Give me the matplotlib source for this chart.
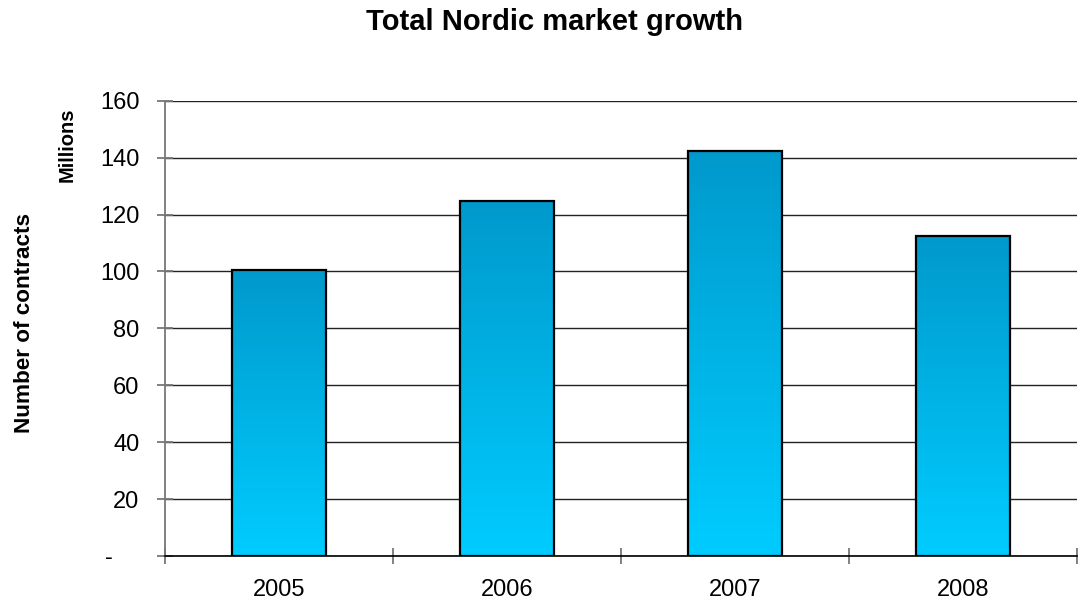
import numpy as np
import matplotlib
matplotlib.use("Agg")
from matplotlib import pyplot as plt
from matplotlib.colors import LinearSegmentedColormap

# данные
years = ["2005", "2006", "2007", "2008"]
contracts = [100.5, 124.8, 142.4, 112.4]
y_ticks = [0, 20, 40, 60, 80, 100, 120, 140, 160]
y_labels = ["-    ", "20", "40", "60", "80", "100", "120", "140", "160"]

plt.rcParams["font.family"] = ["Liberation Sans", "DejaVu Sans"]

fig = plt.figure(figsize=(10.78, 6.02), dpi=100)
ax = fig.add_axes([165 / 1078, 1 - 556 / 602, 912 / 1078, 455.3 / 602])

x = np.arange(len(years))
w = 0.41
grad = LinearSegmentedColormap.from_list("bar", ["#00CCFF", "#0099CC"])
g = np.linspace(0, 1, 256).reshape(-1, 1)

for xi, v in zip(x, contracts):
    ax.imshow(g, cmap=grad, origin="lower", aspect="auto",
              extent=(xi - w / 2, xi + w / 2, 0, v), zorder=2)
ax.bar(x, contracts, width=w, fill=False, edgecolor="black", linewidth=1.6, zorder=3)

ax.set_xlim(-0.5, 3.5)
ax.set_ylim(0, 160)

# сетка
ax.set_yticks(y_ticks)
ax.set_yticklabels(y_labels, fontsize=17)
ax.yaxis.grid(True, color="#222222", linewidth=1.0, zorder=1)
ax.set_axisbelow(True)
ax.tick_params(axis="y", direction="inout", length=11, width=1.3, color="#777777", pad=13)

# подписи по оси X - в центрах, засечки между столбцами
ax.set_xticks(np.arange(-0.5, 4, 1))
ax.set_xticklabels([])
ax.set_xticks(x, minor=True)
ax.set_xticklabels(years, minor=True, fontsize=17)
ax.tick_params(axis="x", which="major", direction="inout", length=11, width=1.3, color="#777777")
ax.tick_params(axis="x", which="minor", length=0, pad=16.5)

for s in ["top", "right"]:
    ax.spines[s].set_visible(False)
ax.spines["left"].set_color("#777777")
ax.spines["left"].set_linewidth(1.3)
ax.spines["bottom"].set_color("black")
ax.spines["bottom"].set_linewidth(1.2)

fig.text(554 / 1078, 1 - 30 / 602, "Total Nordic market growth", fontsize=21,
         fontweight="bold", ha="center", va="baseline")
fig.text(25 / 1078, 1 - 323 / 602, "Number of contracts", fontsize=16.2,
         fontweight="bold", rotation=90, ha="center", va="center")
fig.text(67 / 1078, 1 - 145 / 602, "Millions", fontsize=14.5,
         fontweight="bold", rotation=90, ha="center", va="center")

fig.savefig("out.png", dpi=100)
